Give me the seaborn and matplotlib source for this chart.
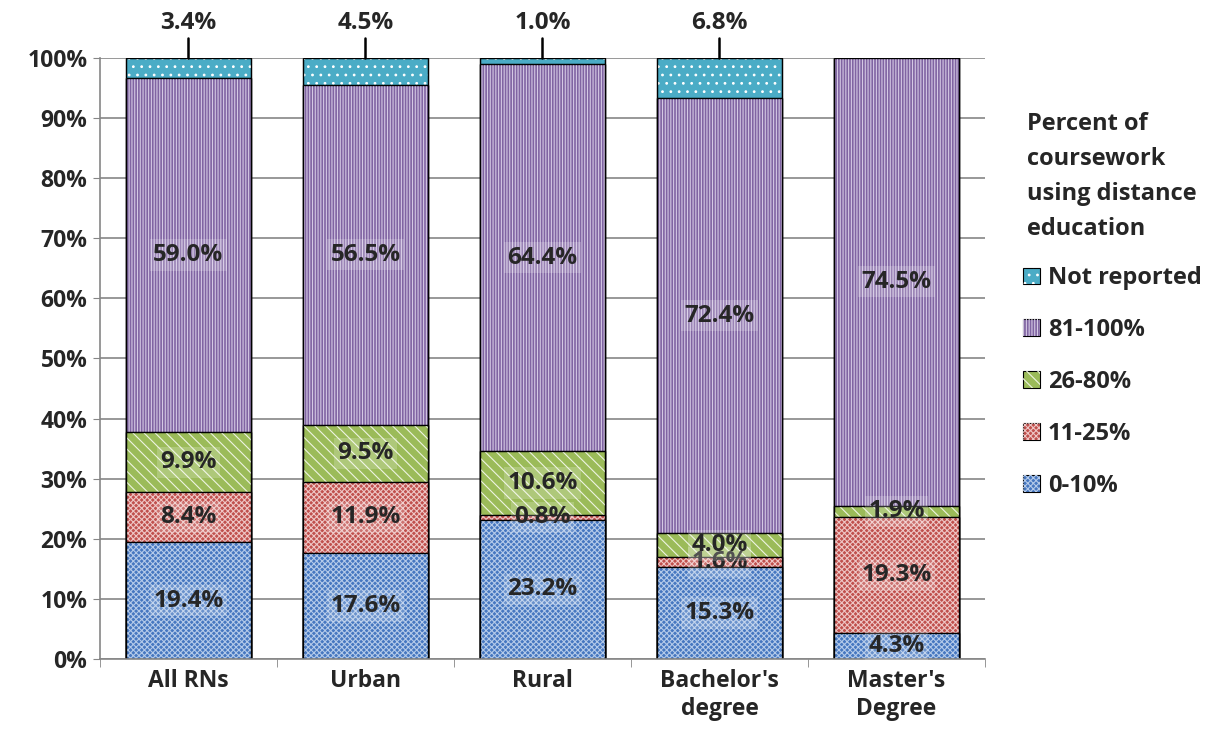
import numpy as np
import pandas as pd
import matplotlib
matplotlib.use("Agg")
import matplotlib.pyplot as plt
import seaborn as sns
from matplotlib.patches import Patch
from matplotlib.legend_handler import HandlerTuple

# data (percent)
groups = ["All RNs", "Urban", "Rural", "Bachelor's\ndegree", "Master's\nDegree"]
pct_0_10 = [19.4, 17.6, 23.2, 15.3, 4.3]
pct_11_25 = [8.4, 11.9, 0.8, 1.6, 19.3]
pct_26_80 = [9.9, 9.5, 10.6, 4.0, 1.9]
pct_81_100 = [59.0, 56.5, 64.4, 72.4, 74.5]
not_reported = [3.4, 4.5, 1.0, 6.8, 0.0]

layers = ["0-10%", "11-25%", "26-80%", "81-100%", "Not reported"]
values = [pct_0_10, pct_11_25, pct_26_80, pct_81_100, not_reported]
faces = ["#4677c0", "#c0504d", "#9bbb59", "#8064a2", "#4bacc6"]
hatch_cols = ["#b4cae9", "#eec6c5", "#eef4e2", "#d4c8e4", "#ffffff"]
hatches = ["xxxxxx", "xxxxxx", "\\\\\\", "||||||", ".."]

sns.set_style("white")
plt.rcParams["font.family"] = ["Open Sans", "DejaVu Sans"]
plt.rcParams["font.weight"] = "bold"
plt.rcParams["hatch.linewidth"] = 0.8

fig = plt.figure(figsize=(12.09, 7.47), dpi=100)
ax = fig.add_axes([0.0827, 0.1178, 0.732, 0.8046])

df = pd.DataFrame(dict(zip(layers, values)), index=groups)
cum = df.cumsum(axis=1)
cum["Not reported"] = df.sum(axis=1).clip(upper=100)

ax.set_axisbelow(True)
ax.yaxis.grid(True, color="#868686", lw=1.2)

bw = 0.71
# draw from the top layer down so each lower segment covers the one above
for i in reversed(range(len(layers))):
    name = layers[i]
    heights = cum[name].values
    sns.barplot(x=groups, y=heights, color=faces[i], saturation=1,
                width=bw, edgecolor="black", linewidth=0.9, ax=ax)
    n1 = len(ax.patches)
    sns.barplot(x=groups, y=heights, color=faces[i], saturation=1,
                width=bw, ax=ax)
    for p in ax.patches[n1:]:
        p.set_facecolor("none")
        p.set_edgecolor(hatch_cols[i])
        p.set_linewidth(0)
        p.set_hatch(hatches[i])
    # outline again on top of the hatch
    n2 = len(ax.patches)
    sns.barplot(x=groups, y=heights, color=faces[i], saturation=1,
                width=bw, edgecolor="black", linewidth=0.9, ax=ax)
    for p in ax.patches[n2:]:
        p.set_facecolor("none")

# labels inside segments
lab_font = dict(fontsize=17.5, fontweight="bold", ha="center", va="center")
for j in range(len(groups)):
    base = 0.0
    for i in range(4):
        v = values[i][j]
        ax.text(j, base + v / 2, f"{v:.1f}%", **lab_font,
                bbox=dict(boxstyle="square,pad=0.15", fc="white", ec="none", alpha=0.2))
        base += v
    nr = not_reported[j]
    if nr > 0:
        ax.text(j, 105.9, f"{nr:.1f}%", clip_on=False, **lab_font)
        ax.plot([j, j], [100, 103.4], color="black", lw=1.8, clip_on=False)

ax.set_ylim(0, 100)
ax.set_xlim(-0.5, 4.5)
ax.set_yticks(np.arange(0, 101, 10))
ax.set_yticklabels([f"{t}%" for t in range(0, 101, 10)], fontsize=16.5, fontweight="bold")
ax.tick_params(axis="y", which="major", left=True, length=5, color="#868686", pad=4)
ax.set_xticks(range(len(groups)))
ax.set_xticklabels(groups, fontsize=16.5, fontweight="bold", linespacing=1.25)
ax.set_xticks(np.arange(-0.5, 5, 1), minor=True)
ax.tick_params(axis="x", which="major", length=0, pad=7)
ax.tick_params(axis="x", which="minor", bottom=True, length=6, color="#868686")
ax.set_xlabel("")
ax.set_ylabel("")
for s in ["top", "right"]:
    ax.spines[s].set_visible(False)
for s in ["left", "bottom"]:
    ax.spines[s].set_color("#868686")
    ax.spines[s].set_linewidth(1.2)

handles = []
for i in reversed(range(len(layers))):
    h_face = Patch(facecolor=faces[i], edgecolor="black", linewidth=0.8)
    h_hatch = Patch(facecolor="none", edgecolor=hatch_cols[i], hatch=hatches[i], linewidth=0)
    handles.append((h_face, h_hatch))
leg = fig.legend(handles, list(reversed(layers)),
                 handler_map={tuple: HandlerTuple(ndivide=1, pad=0)},
                 title="Percent of\ncoursework\nusing distance\neducation",
                 loc="upper center", bbox_to_anchor=(0.92, 0.879), frameon=False,
                 prop=dict(size=17, weight="bold"),
                 title_fontproperties=dict(size=17, weight="bold"),
                 handlelength=0.7, handleheight=0.7, handletextpad=0.35, labelspacing=1.18,
                 alignment="center")
leg.get_title().set_linespacing(1.62)
leg._legend_box.sep = 18

fig.savefig("out.png", dpi=100)
